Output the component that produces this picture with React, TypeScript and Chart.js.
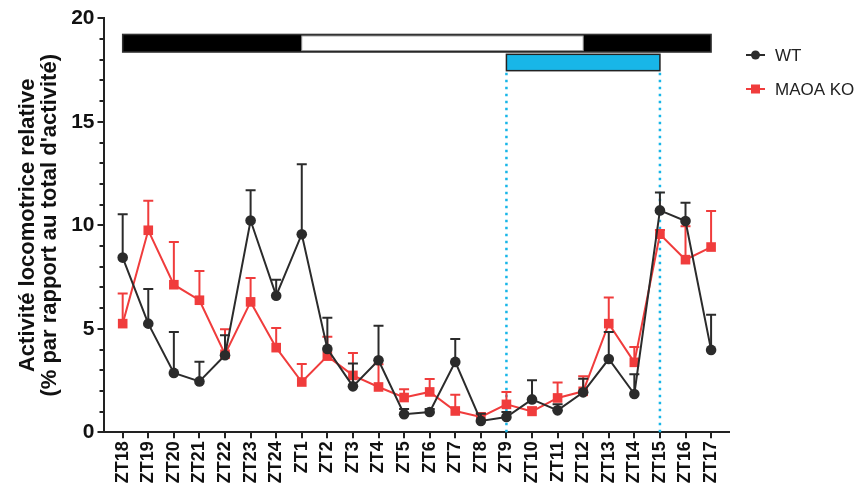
import React, { useEffect, useRef } from "react";
import { Chart, registerables } from "chart.js";

Chart.register(...registerables);

// ---- data ----
const zeitLabels = [
  "ZT18", "ZT19", "ZT20", "ZT21", "ZT22", "ZT23", "ZT24",
  "ZT1", "ZT2", "ZT3", "ZT4", "ZT5", "ZT6", "ZT7", "ZT8", "ZT9",
  "ZT10", "ZT11", "ZT12", "ZT13", "ZT14", "ZT15", "ZT16", "ZT17",
];
const wtMean = [8.44, 5.25, 2.87, 2.46, 3.72, 10.23, 6.6, 9.57, 4.03, 2.22, 3.48, 0.87, 0.98, 3.4, 0.55, 0.74, 1.59, 1.06, 1.93, 3.54, 1.85, 10.72, 10.21, 3.98];
const wtSem = [2.09, 1.67, 1.98, 0.95, 0.97, 1.46, 0.77, 3.38, 1.5, 1.1, 1.67, 0.26, 0.15, 1.11, 0.35, 0.24, 0.92, 0.3, 0.66, 1.31, 0.95, 0.87, 0.88, 1.7];
const koMean = [5.25, 9.76, 7.13, 6.38, 3.77, 6.3, 4.09, 2.43, 3.68, 2.75, 2.19, 1.68, 1.95, 1.03, 0.74, 1.35, 1.01, 1.66, 1.98, 5.25, 3.38, 9.57, 8.34, 8.95];
const koSem = [1.45, 1.42, 2.06, 1.41, 1.21, 1.16, 0.95, 0.87, 0.94, 1.08, 1.1, 0.4, 0.63, 0.79, 0.18, 0.6, 0.2, 0.74, 0.73, 1.26, 0.74, 0.2, 1.61, 1.74];
const seriesNames = ["WT", "MAOA KO"];
const yTickValues = [0, 5, 10, 15, 20];
const yTitle = ["Activité locomotrice relative", "(% par rapport au total d'activité)"];
// light/dark bar: dark from first to last index, light between these indices
const lightFrom = 7; // ZT1
const lightTo = 18; // ZT12
// stimulation bar
const stimFrom = 15; // ZT9
const stimTo = 21; // ZT15

const BLACK = "#2b2b2b";
const RED = "#f03c3c";
const CYAN = "#18b6e8";
const FONT = "'Liberation Sans', Arial, sans-serif";

const errorBarPlugin = {
  id: "errorBars",
  beforeDatasetDraw(chart: any, args: any) {
    const ctx = chart.ctx;
    const ds = chart.data.datasets[args.index];
    const meta = args.meta;
    const ys = chart.scales.y;
    ctx.save();
    ctx.strokeStyle = ds.borderColor;
    ctx.lineWidth = 2;
    meta.data.forEach((pt: any, i: number) => {
      const v = ds.data[i].y;
      const e = ds.sem[i];
      const yTop = ys.getPixelForValue(v + e);
      const x = pt.x;
      ctx.beginPath();
      ctx.moveTo(x, pt.y);
      ctx.lineTo(x, yTop);
      ctx.moveTo(x - 5, yTop);
      ctx.lineTo(x + 5, yTop);
      ctx.stroke();
    });
    ctx.restore();
  },
};

const decorPlugin = {
  id: "decor",
  beforeDatasetsDraw(chart: any) {
    const ctx = chart.ctx;
    const xs = chart.scales.x;
    const ys = chart.scales.y;
    ctx.save();
    // minor ticks on y axis
    ctx.strokeStyle = "#222";
    ctx.lineWidth = 2;
    const ax = chart.chartArea.left;
    for (let v = 1; v < 20; v++) {
      if (v % 5 === 0) continue;
      const y = Math.round(ys.getPixelForValue(v));
      ctx.beginPath();
      ctx.moveTo(ax - 4, y);
      ctx.lineTo(ax, y);
      ctx.stroke();
    }
    // dotted vertical lines
    ctx.strokeStyle = CYAN;
    ctx.lineWidth = 2.5;
    ctx.setLineDash([2.5, 4.5]);
    [stimFrom, stimTo].forEach((i) => {
      const x = xs.getPixelForValue(i);
      ctx.beginPath();
      ctx.moveTo(x, ys.getPixelForValue(17.47) + 2);
      ctx.lineTo(x, ys.getPixelForValue(0));
      ctx.stroke();
    });
    ctx.setLineDash([]);
    // dark/light bar
    const x0 = xs.getPixelForValue(0);
    const x1 = xs.getPixelForValue(zeitLabels.length - 1);
    const yT = ys.getPixelForValue(19.22);
    const yB = ys.getPixelForValue(18.37);
    ctx.fillStyle = "#000";
    ctx.fillRect(x0, yT, x1 - x0, yB - yT);
    ctx.strokeStyle = "#333";
    ctx.lineWidth = 1.5;
    ctx.strokeRect(x0, yT, x1 - x0, yB - yT);
    const lx0 = xs.getPixelForValue(lightFrom);
    const lx1 = xs.getPixelForValue(lightTo);
    ctx.fillStyle = "#fff";
    ctx.fillRect(lx0, yT + 1.5, lx1 - lx0, yB - yT - 3);
    ctx.strokeStyle = "#999";
    ctx.lineWidth = 1;
    ctx.strokeRect(lx0, yT + 1.5, lx1 - lx0, yB - yT - 3);
    // stimulation bar
    const sx0 = xs.getPixelForValue(stimFrom);
    const sx1 = xs.getPixelForValue(stimTo);
    const sT = ys.getPixelForValue(18.26);
    const sB = ys.getPixelForValue(17.47);
    ctx.fillStyle = CYAN;
    ctx.fillRect(sx0, sT, sx1 - sx0, sB - sT);
    ctx.strokeStyle = "#222";
    ctx.lineWidth = 1.5;
    ctx.strokeRect(sx0, sT, sx1 - sx0, sB - sT);
    ctx.restore();
  },
  afterDraw(chart: any) {
    const ctx = chart.ctx;
    ctx.save();
    const items = [
      { name: seriesNames[0], color: BLACK, y: 55, shape: "circle" },
      { name: seriesNames[1], color: RED, y: 89, shape: "rect" },
    ];
    items.forEach((it) => {
      ctx.strokeStyle = it.color;
      ctx.fillStyle = it.color;
      ctx.lineWidth = 2;
      ctx.beginPath();
      ctx.moveTo(746, it.y);
      ctx.lineTo(765, it.y);
      ctx.stroke();
      if (it.shape === "circle") {
        ctx.beginPath();
        ctx.arc(755.5, it.y, 4.5, 0, Math.PI * 2);
        ctx.fill();
      } else {
        ctx.fillRect(751, it.y - 4.5, 9, 9);
      }
      ctx.fillStyle = "#222";
      ctx.font = `17px ${FONT}`;
      ctx.textBaseline = "middle";
      ctx.textAlign = "left";
      ctx.fillText(it.name, 775, it.y + 1);
    });
    ctx.restore();
  },
};

export default function App() {
  const ref = useRef<HTMLCanvasElement | null>(null);
  useEffect(() => {
    if (!ref.current) return;
    const chart = new Chart(ref.current, {
      type: "line",
      data: {
        datasets: [
          {
            label: seriesNames[0],
            data: wtMean.map((v, i) => ({ x: i, y: v })),
            sem: wtSem,
            borderColor: BLACK,
            backgroundColor: BLACK,
            borderWidth: 2,
            pointStyle: "circle",
            pointRadius: 5.3,
            pointBorderWidth: 0,
            tension: 0,
            clip: false,
          } as any,
          {
            label: seriesNames[1],
            data: koMean.map((v, i) => ({ x: i, y: v })),
            sem: koSem,
            borderColor: RED,
            backgroundColor: RED,
            borderWidth: 2,
            pointStyle: "rect",
            pointRadius: 6.8,
            pointBorderWidth: 0,
            tension: 0,
            clip: false,
          } as any,
        ],
      },
      options: {
        animation: false,
        responsive: false,
        events: [],
        layout: { padding: { top: 18.3, right: 136, left: 0, bottom: 0 } },
        plugins: { legend: { display: false }, tooltip: { enabled: false } },
        scales: {
          x: {
            type: "linear",
            min: -0.75,
            max: 23.7,
            afterBuildTicks: (scale: any) => {
              scale.ticks = zeitLabels.map((_, i) => ({ value: i }));
            },
            afterFit: (scale: any) => {
              scale.height = 488 - 432.3;
            },
            ticks: {
              autoSkip: false,
              maxRotation: 90,
              minRotation: 90,
              padding: 3,
              color: "#111",
              font: { family: FONT, size: 18, weight: "bold" },
              callback: (v: any) => zeitLabels[v] ?? "",
            },
            grid: {
              display: true,
              drawOnChartArea: false,
              drawTicks: true,
              tickLength: 6,
              color: "#222",
              lineWidth: 2,
            },
            border: { display: true, color: "#222", width: 2 },
          },
          y: {
            type: "linear",
            min: 0,
            max: 20,
            afterBuildTicks: (scale: any) => {
              scale.ticks = yTickValues.map((v) => ({ value: v }));
            },
            afterFit: (scale: any) => {
              scale.width = 103.5;
            },
            ticks: {
              padding: 3,
              color: "#111",
              font: { family: FONT, size: 21, weight: "bold" },
            },
            grid: {
              display: true,
              drawOnChartArea: false,
              drawTicks: true,
              tickLength: 6,
              color: "#222",
              lineWidth: 2,
            },
            border: { display: true, color: "#222", width: 2 },
            title: {
              display: true,
              text: yTitle,
              color: "#111",
              font: { family: FONT, size: 22, weight: "bold", lineHeight: 1.0 },
              padding: { top: 17, bottom: 0 },
            },
          },
        },
      },
      plugins: [errorBarPlugin, decorPlugin],
    });
    return () => chart.destroy();
  }, []);
  return (
    <div style={{ position: "absolute", left: 0, top: 0, width: 865, height: 488, background: "#fff" }}>
      <canvas ref={ref} width={865} height={488} style={{ width: 865, height: 488, display: "block" }} />
    </div>
  );
}
